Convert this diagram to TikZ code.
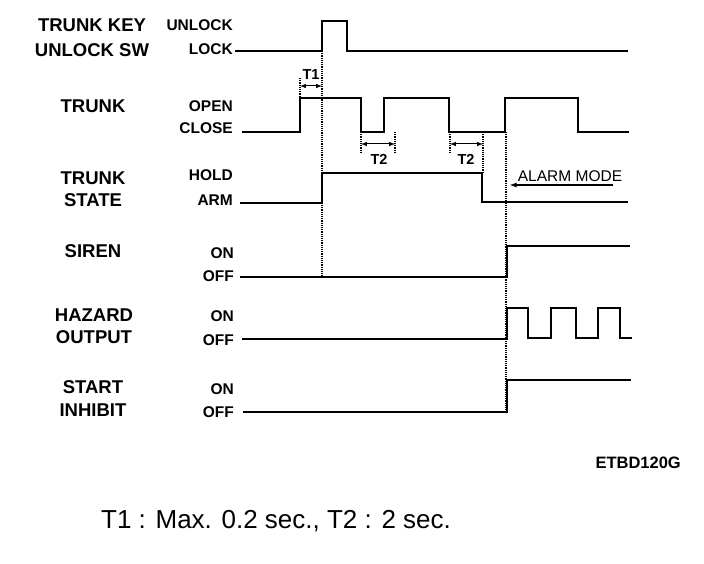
\documentclass[tikz,border=0pt]{standalone}
\usepackage{fontspec}
\setmainfont{Liberation Sans}
\usetikzlibrary{arrows}

\begin{document}
\begin{tikzpicture}[x=1pt,y=-1pt,
 sig/.style={font=\fontsize{18.5}{20}\selectfont\bfseries, inner sep=0pt},
 lvl/.style={font=\fontsize{15.5}{17}\selectfont\bfseries, inner sep=0pt, anchor=east},
 wave/.style={line width=2.6pt, line join=miter},
 guide/.style={line width=1.1pt, dash pattern=on 1.2pt off 1pt},
 tm/.style={<->, >=latex, line width=1pt, shorten <=0pt}]
\useasboundingbox (0,0) rectangle (704,564);

\node[sig] (keya) at (92,25) {TRUNK KEY};
\node[sig] (keyb) at (92,50) {UNLOCK SW};
\node[sig] (trunk) at (93,106) {TRUNK};
\node[sig] (statea) at (93,178) {TRUNK};
\node[sig] (stateb) at (93,200) {STATE};
\node[sig] (siren) at (93,251) {SIREN};
\node[sig] (hazarda) at (94,315) {HAZARD};
\node[sig] (hazardb) at (94,337) {OUTPUT};
\node[sig] (starta) at (93,387) {START};
\node[sig] (startb) at (93,410) {INHIBIT};

\node[lvl] (unlock) at (233,25) {UNLOCK};
\node[lvl] (lock) at (233,49) {LOCK};
\node[lvl] (open) at (233,106) {OPEN};
\node[lvl] (close) at (233,128) {CLOSE};
\node[lvl] (hold) at (233,175) {HOLD};
\node[lvl] (arm) at (233,200) {ARM};
\node[lvl] (sirenon) at (234,253) {ON};
\node[lvl] (sirenoff) at (234,276) {OFF};
\node[lvl] (hazon) at (234,316) {ON};
\node[lvl] (hazoff) at (234,340) {OFF};
\node[lvl] (starton) at (234,389) {ON};
\node[lvl] (startoff) at (234,412) {OFF};

% guide lines
\draw[guide] (322,51) -- (322,277);
\draw[guide] (300,78) -- (300,98);
\draw[guide] (361,132) -- (361,153);
\draw[guide] (395,132) -- (395,153);
\draw[guide] (450,132) -- (450,153);
\draw[guide] (483,132) -- (483,173);
\draw[guide] (506,132) -- (506,412);

% waveforms
\draw[wave] (235,51) -- (322,51) -- (322,21) -- (347,21) -- (347,51) -- (628,51);
\draw[wave] (242,132) -- (300,132) -- (300,98) -- (361,98) -- (361,132) -- (384,132) -- (384,98) -- (449,98) -- (449,132) -- (505,132) -- (505,98) -- (578,98) -- (578,132) -- (629,132);
\draw[wave] (240,203) -- (322,203) -- (322,173) -- (482,173) -- (482,202) -- (628,202);
\draw[wave] (240,277) -- (507,277) -- (507,246) -- (630,246);
\draw[wave] (242,339) -- (507,339) -- (507,308) -- (528,308) -- (528,338) -- (551,338) -- (551,308) -- (576,308) -- (576,338) -- (598,338) -- (598,308) -- (620,308) -- (620,338) -- (632,338);
\draw[wave] (243,412) -- (507,412) -- (507,380) -- (631,380);

% timings
\coordinate (tonea) at (300,86);
\coordinate (toneb) at (322,86);
\path[tm] (tonea) edge (toneb);
\node[font=\fontsize{14.5}{16}\selectfont\bfseries] (tone) at (311,75) {T1};
\coordinate (ttwoa) at (361,144);
\coordinate (ttwob) at (395,144);
\path[tm] (ttwoa) edge (ttwob);
\node[font=\fontsize{14.5}{16}\selectfont\bfseries] (ttwo) at (379,159) {T2};
\coordinate (tthreea) at (450,144);
\coordinate (tthreeb) at (483,144);
\path[tm] (tthreea) edge (tthreeb);
\node[font=\fontsize{14.5}{16}\selectfont\bfseries] (tthree) at (466,159) {T2};

\node[font=\fontsize{15.5}{17}\selectfont, inner sep=0pt] (alarm) at (570,176) {ALARM MODE};
\coordinate (alarmtail) at (613,185);
\coordinate (alarmhead) at (510,185);
\path[->,>=latex,line width=1.3pt] (alarmtail) edge (alarmhead);

\node[font=\fontsize{16.5}{18}\selectfont\bfseries, inner sep=0pt, anchor=east] (code) at (681,463) {ETBD120G};
\node[font=\fontsize{26}{28}\selectfont, inner sep=0pt, anchor=base west] (note) at (101,528) {T1 : Max. 0.2 sec., T2 : 2 sec.};
\end{tikzpicture}
\end{document}
